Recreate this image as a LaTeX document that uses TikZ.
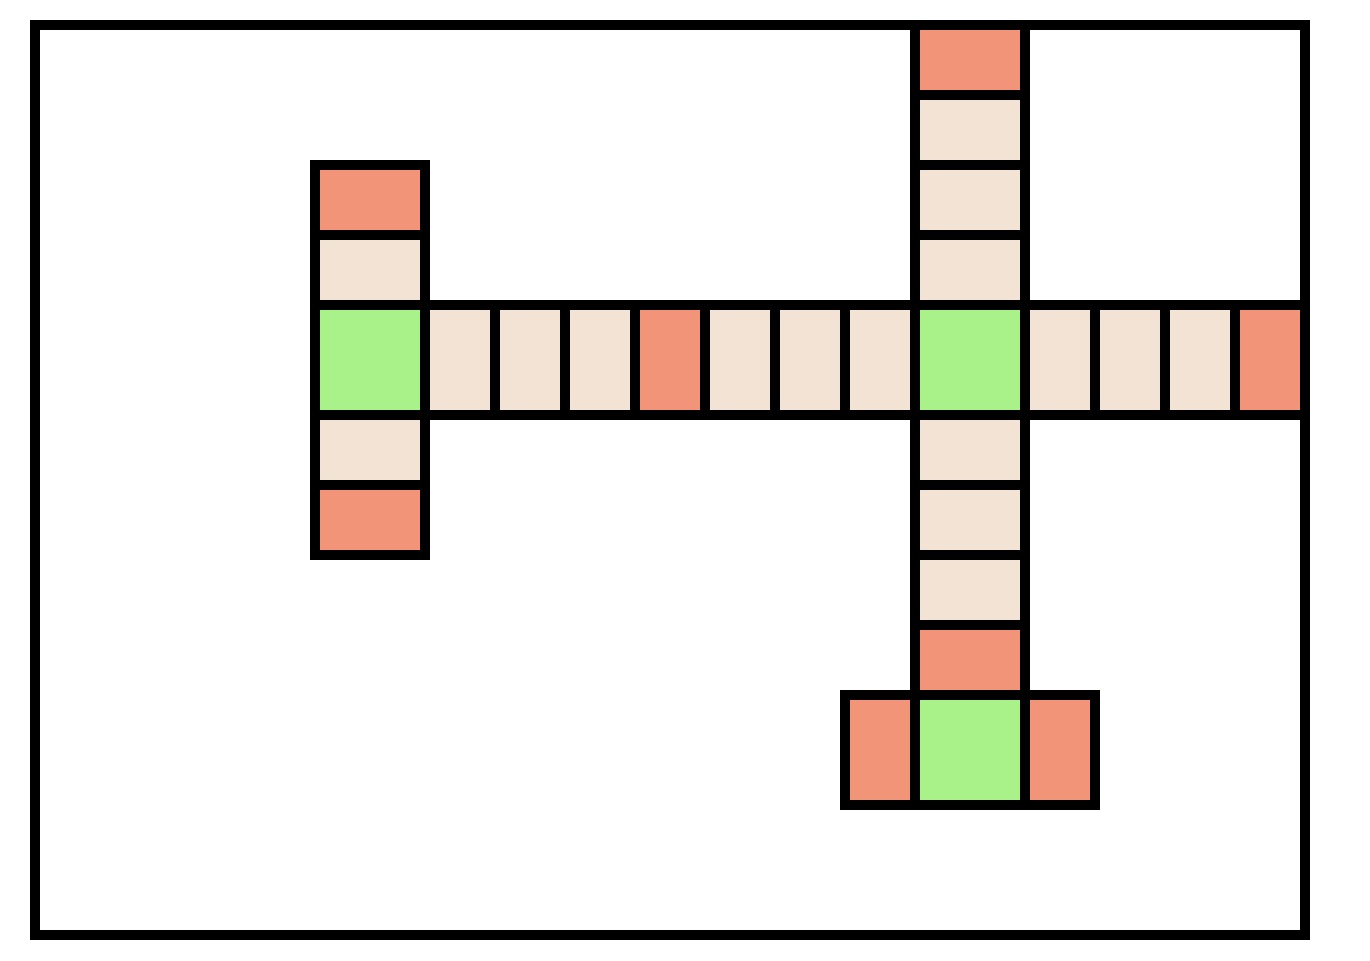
\documentclass[tikz,border=0pt]{standalone}
\definecolor{salmon}{HTML}{F19477}
\definecolor{cream}{HTML}{F2E3D4}
\definecolor{lgreen}{HTML}{A8F289}
\tikzset{
  cell/.style={draw=black, line width=1mm},
  frame/.style={draw=black, line width=1mm}
}
\begin{document}
\begin{tikzpicture}[x=0.1mm,y=-0.1mm]
\useasboundingbox (0,0) rectangle (1370,960);
\fill[white] (0,0) rectangle (1370,960);
% outer frame
\draw[frame] (35,25) rectangle (1305,935);
% left column (x 315..425)
\foreach \ya/\yb/\c in {165/235/salmon, 235/305/cream, 305/415/lgreen, 415/485/cream, 485/555/salmon}
  \draw[cell, fill=\c] (315,\ya) rectangle (425,\yb);
% horizontal row (y 305..415)
\foreach \xa/\xb/\c in {425/495/cream, 495/565/cream, 565/635/cream, 635/705/salmon, 705/775/cream, 775/845/cream, 845/915/cream, 1025/1095/cream, 1095/1165/cream, 1165/1235/cream, 1235/1305/salmon}
  \draw[cell, fill=\c] (\xa,305) rectangle (\xb,415);
% right column (x 915..1025)
\foreach \ya/\yb/\c in {25/95/salmon, 95/165/cream, 165/235/cream, 235/305/cream, 305/415/lgreen, 415/485/cream, 485/555/cream, 555/625/cream, 625/695/salmon, 695/805/lgreen}
  \draw[cell, fill=\c] (915,\ya) rectangle (1025,\yb);
% bottom row
\draw[cell, fill=salmon] (845,695) rectangle (915,805);
\draw[cell, fill=salmon] (1025,695) rectangle (1095,805);
\end{tikzpicture}
\end{document}
